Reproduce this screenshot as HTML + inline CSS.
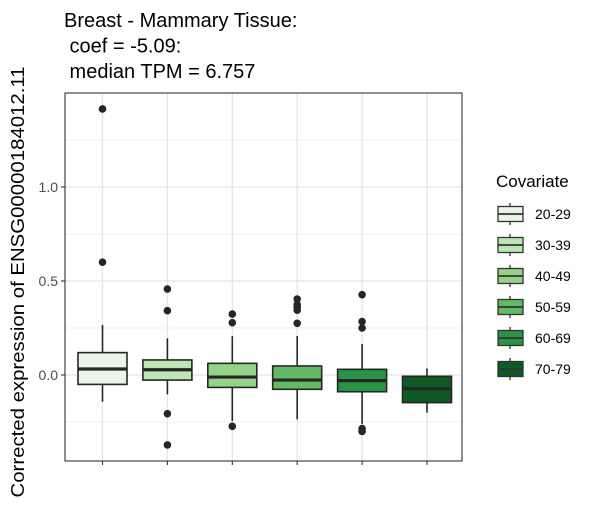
<!DOCTYPE html>
<html><head><meta charset="utf-8"><style>
body{margin:0;background:#fff;font-family:"Liberation Sans",sans-serif}
svg text{font-family:"Liberation Sans",sans-serif;white-space:pre}
</style></head><body>
<svg width="600" height="500" xmlns="http://www.w3.org/2000/svg">
<g id="root"></g>
</svg>
<script>
const categories=["20-29","30-39","40-49","50-59","60-69","70-79"];
const colors=["#EAF6E5","#BCE6B4","#93D388","#62BA62","#2A9446","#0D5A24"];
const wLow=[-0.142,-0.103,-0.245,-0.236,-0.26,-0.2];
const q1=[-0.05,-0.027,-0.066,-0.076,-0.089,-0.147];
const med=[0.032,0.028,-0.011,-0.027,-0.03,-0.073];
const q3=[0.119,0.08,0.062,0.048,0.03,-0.007];
const wHigh=[0.266,0.195,0.207,0.207,0.165,0.035];
const outliers=[[1.415,0.60],[0.457,0.342,-0.206,-0.372],[0.324,0.278,-0.273],[0.404,0.375,0.36,0.345,0.275],[0.427,0.284,0.25,-0.285,-0.30],[]];
const yTicks=[0,0.5,1.0];
const yTickLabels=["0.0","0.5","1.0"];
const yMinor=[-0.25,0.25,0.75,1.25];
const NS="http://www.w3.org/2000/svg";
const root=document.getElementById('root');
const L=65,R=462,T=93,B=461;
const y=v=>375-v*188;
const x=i=>102.5+i*64.9;
function mk(tag,a,p){const e=document.createElementNS(NS,tag);for(const k in a)e.setAttribute(k,a[k]);(p||root).appendChild(e);return e;}
let e;
e=mk('rect',{x:L,y:T,width:R-L,height:B-T,fill:'#fff'});


yMinor.forEach(v=>{e=mk('line',{x1:L,x2:R,y1:y(v),y2:y(v),stroke:'#f0f0f0','stroke-width':1});

});
yTicks.forEach((v,i)=>{e=mk('line',{x1:L,x2:R,y1:y(v),y2:y(v),stroke:'#e5e5e5','stroke-width':1.3});


e=mk('line',{x1:L-4,x2:L,y1:y(v),y2:y(v),stroke:'#333','stroke-width':1.1});


e=mk('text',{x:L-7,y:y(v)+5,'text-anchor':'end','font-size':14,fill:'#4d4d4d'});e.textContent=yTickLabels[i];

});
categories.forEach((c,i)=>{
e=mk('line',{x1:x(i),x2:x(i),y1:T,y2:B,stroke:'#e5e5e5','stroke-width':1.3});


e=mk('line',{x1:x(i),x2:x(i),y1:B,y2:B+4,stroke:'#333','stroke-width':1.1});

});
categories.forEach((c,i)=>{
const g=mk('g',{});


const cx=x(i),hw=24.5;
mk('line',{x1:cx,x2:cx,y1:y(wHigh[i]),y2:y(q3[i]),stroke:'#262626','stroke-width':1.6},g);
mk('line',{x1:cx,x2:cx,y1:y(q1[i]),y2:y(wLow[i]),stroke:'#262626','stroke-width':1.6},g);
mk('rect',{x:cx-hw,y:y(q3[i]),width:2*hw,height:y(q1[i])-y(q3[i]),fill:colors[i],stroke:'#262626','stroke-width':1.6},g);
mk('line',{x1:cx-hw,x2:cx+hw,y1:y(med[i]),y2:y(med[i]),stroke:'#262626','stroke-width':3.2},g);
outliers[i].forEach(v=>mk('circle',{cx:cx,cy:y(v),r:3.8,fill:'#262626'},g));
});
e=mk('rect',{x:L,y:T,width:R-L,height:B-T,fill:'none',stroke:'#333','stroke-width':1.1});


const tl=["Breast - Mammary Tissue:","\u00a0coef = -5.09:","\u00a0median TPM = 6.757"];
tl.forEach((t,i)=>{e=mk('text',{x:64,y:27+i*25.5,'font-size':20,fill:'#000'});e.textContent=t;

});
e=mk('text',{x:0,y:0,'font-size':18,fill:'#000','text-anchor':'middle',textLength:431,lengthAdjust:'spacingAndGlyphs',transform:'translate(24,282) rotate(-90)'});e.textContent="Corrected expression of ENSG00000184012.11";


e=mk('text',{x:496,y:187,'font-size':17,fill:'#000'});e.textContent="Covariate";


categories.forEach((c,i)=>{
const g=mk('g',{});


const cy=214+i*31;
mk('line',{x1:510,x2:510,y1:cy-11,y2:cy+11,stroke:'#333','stroke-width':1.3},g);
mk('rect',{x:498,y:cy-7.5,width:25,height:15,fill:colors[i],stroke:'#333','stroke-width':1.3},g);
mk('line',{x1:498,x2:523,y1:cy,y2:cy,stroke:'#333','stroke-width':1.8},g);
const t=mk('text',{x:535,y:cy+5,'font-size':14,fill:'#000'},g);t.textContent=c;
});
</script>
</body></html>
